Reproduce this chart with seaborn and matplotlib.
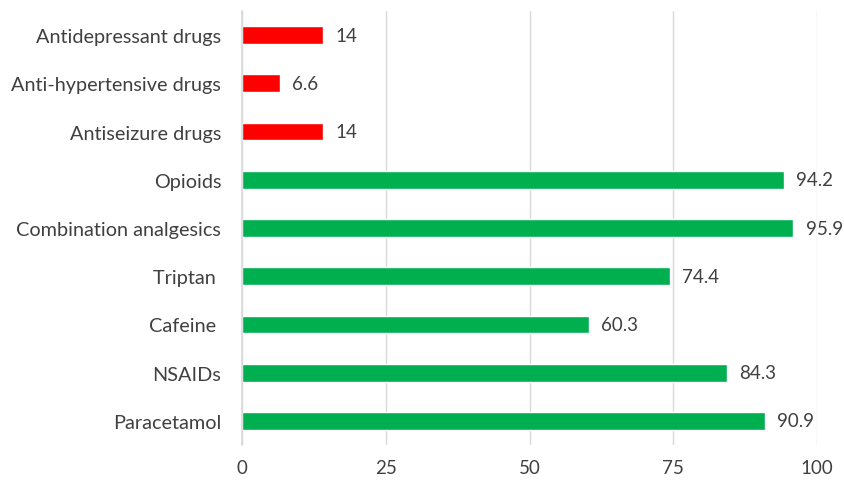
import matplotlib
matplotlib.use("Agg")
import matplotlib.pyplot as plt
import seaborn as sns
import pandas as pd

categories = ["Antidepressant drugs", "Anti-hypertensive drugs", "Antiseizure drugs",
              "Opioids", "Combination analgesics", "Triptan ", "Cafeine ", "NSAIDs", "Paracetamol"]
values = [14, 6.6, 14, 94.2, 95.9, 74.4, 60.3, 84.3, 90.9]
labels = ["14", "6.6", "14", "94.2", "95.9", "74.4", "60.3", "84.3", "90.9"]
groups = ["red", "red", "red", "green", "green", "green", "green", "green", "green"]
x_ticks = [0, 25, 50, 75, 100]

sns.set_theme(style="white")
plt.rcParams['font.family'] = ['Lato', 'DejaVu Sans']
text_color = "#404040"

df = pd.DataFrame({"cat": categories, "val": values, "grp": groups})
palette = {"red": "#FF0000", "green": "#00B050"}

fig = plt.figure(figsize=(8.44, 4.81), dpi=100)
ax = fig.add_axes([242/844, 1 - 446/481, (817 - 242)/844, (446 - 12)/481])

sns.barplot(data=df, y="cat", x="val", hue="grp", palette=palette, dodge=False,
            width=0.37, legend=False, ax=ax, order=categories, saturation=1)

ax.set_xlim(0, 100)
ax.set_xticks(x_ticks)
ax.set_xticklabels([str(t) for t in x_ticks])
ax.set_ylim(len(categories) - 0.5, -0.5)
ax.grid(axis="x", color="#D9D9D9", linewidth=1)
ax.set_axisbelow(True)
for s in ["top", "right", "bottom"]:
    ax.spines[s].set_visible(False)
ax.spines["left"].set_color("#D9D9D9")
ax.spines["left"].set_linewidth(1.2)
ax.set_xlabel("")
ax.set_ylabel("")

ax.set_yticks([i for i in range(len(categories))])
ax.set_yticklabels(categories)
ax.tick_params(axis="y", length=0, pad=15, labelsize=14.3, labelcolor=text_color)
ax.set_yticks([i - 0.5 for i in range(len(categories) + 1)], minor=True)
ax.tick_params(axis="y", which="minor", length=7, color="#D9D9D9", width=1.2)
ax.tick_params(axis="x", length=0, pad=10, labelsize=13.5, labelcolor=text_color)

for i, (v, lab) in enumerate(zip(values, labels)):
    ax.annotate(lab, xy=(v, i), xytext=(9, 0), textcoords="offset points",
                va="center", ha="left", fontsize=13.5, color=text_color)

fig.savefig("out.png", dpi=100)
